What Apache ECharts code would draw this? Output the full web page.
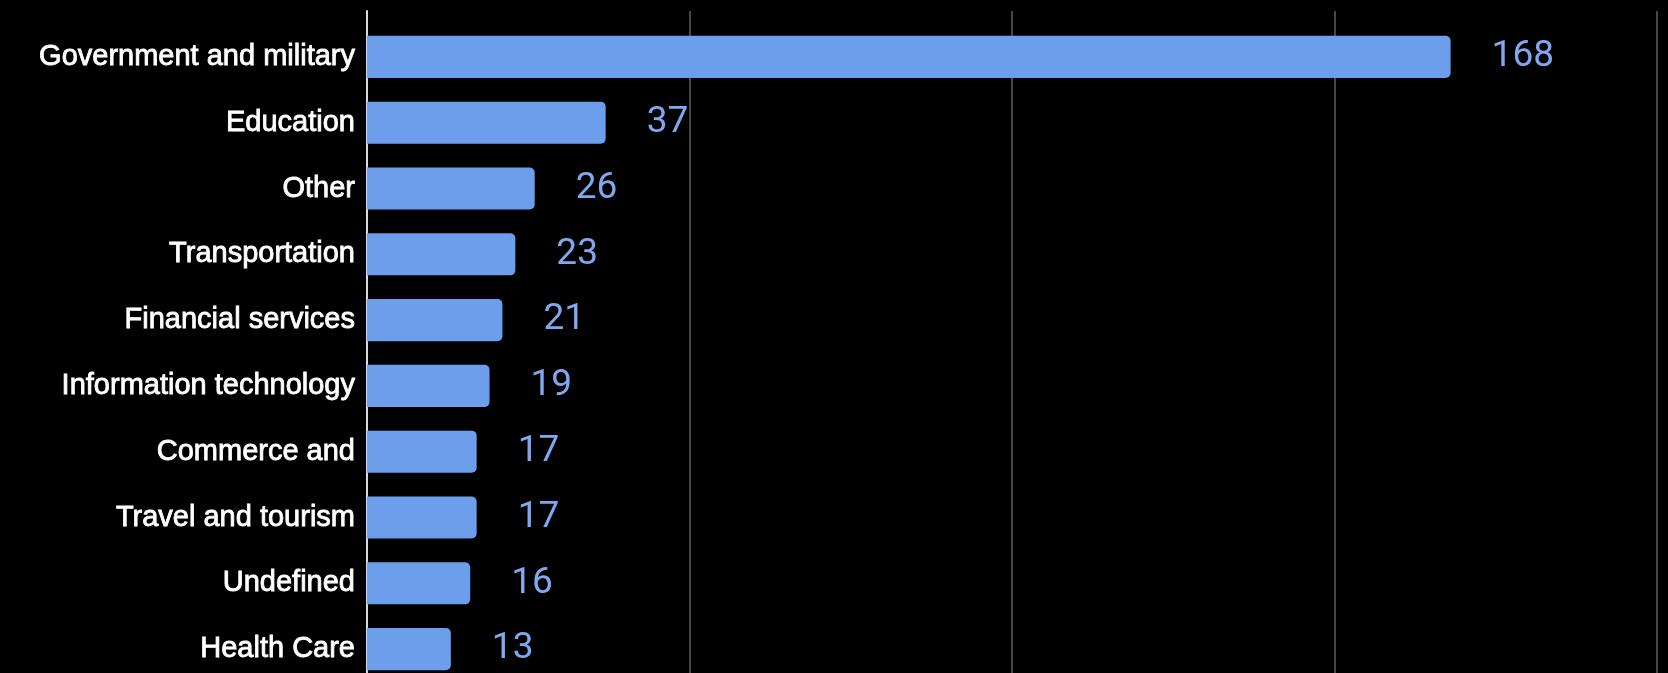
<!DOCTYPE html>
<html>
<head>
<meta charset="utf-8">
<title>Sectors</title>
<script src="https://cdn.jsdelivr.net/npm/echarts@6/dist/echarts.min.js"></script>
<style>
  html, body { margin: 0; padding: 0; background: #000; overflow: hidden; }
  /* the last row runs slightly past the bottom edge of the view */
  #chart { width: 1668px; height: 682px; }
</style>
</head>
<body>
<div id="chart"></div>
<script>
// Sector names, top to bottom
const categories = [
  'Government and military',
  'Education',
  'Other',
  'Transportation',
  'Financial services',
  'Information technology',
  'Commerce and',
  'Travel and tourism',
  'Undefined',
  'Health Care'
];
// Count per sector
const counts = [168, 37, 26, 23, 21, 19, 17, 17, 16, 13];
// Value axis range and step
const axisMin = 0;
const axisMax = 200;
const axisStep = 50;

const chart = echarts.init(document.getElementById('chart'), null, { renderer: 'canvas' });

const gridLeft = 367;
const gridRight = 11;

chart.setOption({
  backgroundColor: '#000000',
  animation: false,
  grid: [
    // frame grid: vertical gridlines and the baseline
    { left: gridLeft, right: gridRight, top: 11, bottom: 0 },
    // bars
    { left: gridLeft, right: gridRight, top: 24, bottom: 0 }
  ],
  xAxis: [
    {
      gridIndex: 0, type: 'value', min: axisMin, max: axisMax, interval: axisStep,
      axisLine: { show: false }, axisTick: { show: false }, axisLabel: { show: false },
      splitLine: { show: true, lineStyle: { color: '#474747', width: 2 } }
    },
    {
      gridIndex: 1, type: 'value', min: axisMin, max: axisMax, interval: axisStep,
      axisLine: { show: false }, axisTick: { show: false }, axisLabel: { show: false },
      splitLine: { show: false }
    }
  ],
  yAxis: [
    {
      gridIndex: 0, type: 'value', min: 0, max: 1,
      axisLine: { show: true, onZero: false, lineStyle: { color: '#d9d9d9', width: 2 } },
      axisTick: { show: false }, axisLabel: { show: false }, splitLine: { show: false }
    },
    {
      gridIndex: 1, type: 'category', inverse: true, data: categories,
      axisLine: { show: false }, axisTick: { show: false },
      axisLabel: {
        color: '#ffffff', fontSize: 29, fontWeight: 'normal',
        fontFamily: 'Liberation Sans, Arial, sans-serif', margin: 12,
        textBorderColor: '#ffffff', textBorderWidth: 0.8
      },
      splitLine: { show: false }
    }
  ],
  series: [
    {
      type: 'bar',
      xAxisIndex: 1, yAxisIndex: 1,
      data: counts,
      barCategoryGap: '36%',
      itemStyle: { color: '#6d9eeb', borderRadius: [0, 5, 5, 0] },
      label: {
        show: true, position: 'right', distance: 41,
        color: '#7fa8ee', fontSize: 37, fontFamily: 'Roboto, sans-serif'
      },
      z: 3
    }
  ]
});
</script>
</body>
</html>
